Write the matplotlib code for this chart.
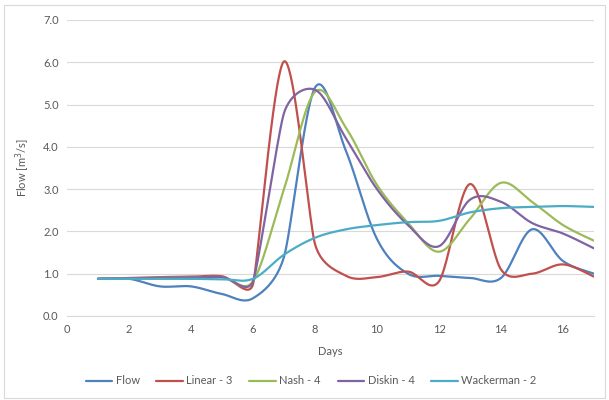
import numpy as np
import matplotlib
matplotlib.use("Agg")
import matplotlib.pyplot as plt
from matplotlib.patches import Rectangle

days = list(range(1, 18))
flow      = [0.88, 0.88, 0.70, 0.70, 0.52, 0.42, 1.40, 5.40, 3.90, 1.82, 1.00, 0.95, 0.90, 0.90, 2.05, 1.30, 1.00]
linear3   = [0.88, 0.90, 0.92, 0.93, 0.94, 0.75, 6.02, 1.70, 0.95, 0.92, 1.05, 0.82, 3.12, 1.10, 1.00, 1.22, 0.93]
nash4     = [0.88, 0.89, 0.90, 0.91, 0.92, 0.82, 3.00, 5.30, 4.45, 3.10, 2.20, 1.52, 2.30, 3.15, 2.70, 2.15, 1.78]
diskin4   = [0.88, 0.89, 0.90, 0.91, 0.92, 0.82, 4.80, 5.35, 4.20, 3.00, 2.15, 1.65, 2.75, 2.70, 2.20, 1.95, 1.60]
wackerman = [0.88, 0.88, 0.88, 0.88, 0.87, 0.88, 1.45, 1.85, 2.05, 2.15, 2.22, 2.25, 2.45, 2.55, 2.58, 2.60, 2.58]

series = [("Flow", flow, "#4F81BD"), ("Linear - 3", linear3, "#C0504D"),
          ("Nash - 4", nash4, "#9BBB59"), ("Diskin - 4", diskin4, "#8064A2"),
          ("Wackerman - 2", wackerman, "#4BACC6")]

XS, YS = 31.0, 42.3  # pixel scale used for Excel-like smoothing

def smooth(x, y, n=40):
    P = np.column_stack([np.asarray(x, float) * XS, np.asarray(y, float) * YS])
    m = len(P)
    cout = np.zeros_like(P); cin = np.zeros_like(P)
    for i in range(m):
        p0 = P[i - 1] if i > 0 else P[i]
        p2 = P[i + 1] if i < m - 1 else P[i]
        d02 = np.linalg.norm(p2 - p0)
        d01 = np.linalg.norm(P[i] - p0)
        d12 = np.linalg.norm(p2 - P[i])
        f = 1 / 6
        if d02 > 0:
            if i > 0:
                f = min(f, d01 / (2 * d02))
            if i < m - 1:
                f = min(f, d12 / (2 * d02))
        T = (p2 - p0) * f
        cout[i] = P[i] + T
        cin[i] = P[i] - T
    out = []
    for i in range(m - 1):
        p1, p2 = P[i], P[i + 1]
        c1, c2 = cout[i], cin[i + 1]
        t = np.linspace(0, 1, n, endpoint=(i == m - 2))[:, None]
        b = (1 - t) ** 3 * p1 + 3 * (1 - t) ** 2 * t * c1 + 3 * (1 - t) * t ** 2 * c2 + t ** 3 * p2
        out.append(b)
    B = np.vstack(out)
    return B[:, 0] / XS, B[:, 1] / YS

plt.rcParams['font.family'] = ['Lato', 'DejaVu Sans']
fig = plt.figure(figsize=(6.09, 4.0), dpi=100)
fig.patches.append(Rectangle((0.006, 0.005), 0.988, 0.982, transform=fig.transFigure,
                             fill=False, edgecolor="#D9D9D9", lw=0.8))
ax = fig.add_axes([67/609, 1 - 316/400, (594 - 67)/609, (316 - 20)/400])

for name, vals, col in series:
    xs, ys = smooth(days, vals)
    ax.plot(xs, ys, color=col, lw=1.6, label=name, solid_capstyle='round')

ax.set_xlim(0, 17)
ax.set_ylim(0, 7)
ax.set_xticks(range(0, 17, 2))
ax.set_yticks(np.arange(0, 7.01, 1.0))
ax.set_yticklabels([f"{v:.1f}" for v in np.arange(0, 7.01, 1.0)])
ax.grid(axis='y', color="#D9D9D9", lw=0.8)
ax.set_axisbelow(True)
for s in ['top', 'right', 'left']:
    ax.spines[s].set_visible(False)
ax.spines['bottom'].set_color("#D9D9D9")
ax.tick_params(axis='both', length=0, labelsize=8, colors="#595959", pad=6)
ax.set_xlabel("Days", fontsize=8, color="#595959", labelpad=8)
ax.set_ylabel("Flow [m$^3$/s]", fontsize=8, color="#595959", labelpad=8)

leg = fig.legend(loc='center', bbox_to_anchor=(311/609, 1 - 381/400), ncol=5, frameon=False,
                 fontsize=8, handlelength=2.4, handletextpad=0.3, columnspacing=1.5)
for t in leg.get_texts():
    t.set_color("#595959")

fig.savefig("out.png", dpi=100)
